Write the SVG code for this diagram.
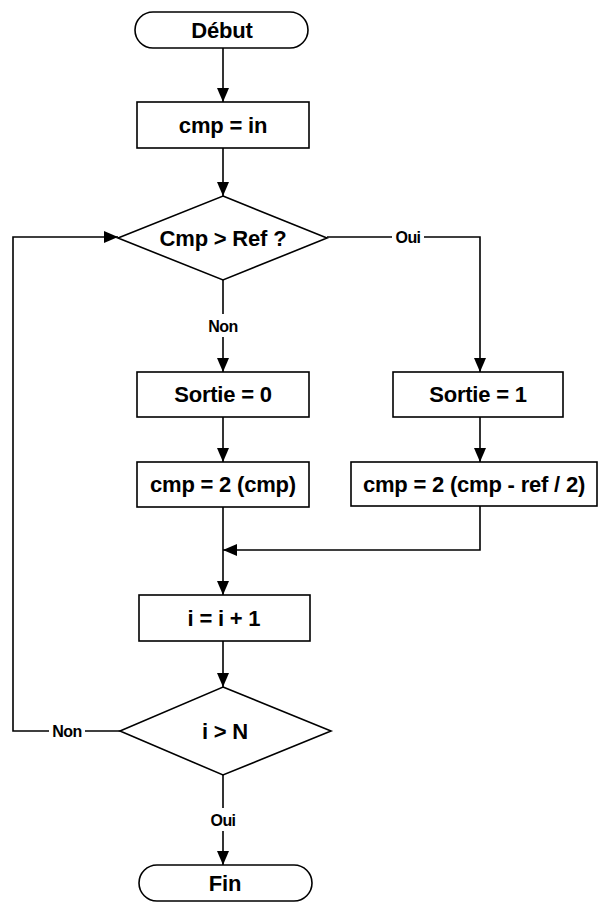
<svg xmlns="http://www.w3.org/2000/svg" width="598" height="906" viewBox="0 0 598 906">
<style>
.s{fill:#fff;stroke:#000;stroke-width:1.6}
.t{font-family:"Liberation Sans",Arial,sans-serif;font-weight:bold;font-size:22px;text-anchor:middle;fill:#000;letter-spacing:-0.2px}
.l{font-family:"Liberation Sans",Arial,sans-serif;font-weight:bold;font-size:16px;text-anchor:middle;fill:#000;letter-spacing:-0.6px}
.c{fill:none;stroke:#000;stroke-width:1.6}
</style>
<defs>
<marker id="ah" markerUnits="userSpaceOnUse" markerWidth="14" markerHeight="12" refX="14" refY="6" orient="auto">
<path d="M0,0 L14,6 L0,12 z" fill="#000"/>
</marker>
</defs>
<rect width="598" height="906" fill="#fff"/>
<g id="connectors">
<path class="c" d="M223,48 V102" marker-end="url(#ah)"/>
<path class="c" d="M223,148 V196" marker-end="url(#ah)"/>
<path class="c" d="M327,237 H392"/>
<path class="c" d="M424,237 H480 V372" marker-end="url(#ah)"/>
<path class="c" d="M223,280 V314"/>
<path class="c" d="M223,337 V372" marker-end="url(#ah)"/>
<path class="c" d="M223,417 V462" marker-end="url(#ah)"/>
<path class="c" d="M480,417 V462" marker-end="url(#ah)"/>
<path class="c" d="M223,507 V595" marker-end="url(#ah)"/>
<path class="c" d="M480,506 V550 H223" marker-end="url(#ah)"/>
<path class="c" d="M223,641 V687" marker-end="url(#ah)"/>
<path class="c" d="M223,775 V808"/>
<path class="c" d="M223,831 V865" marker-end="url(#ah)"/>
<path class="c" d="M120,731 H85"/>
<path class="c" d="M49,731 H13 V237 H118" marker-end="url(#ah)"/>
<text class="l" x="408" y="243">Oui</text>
<text class="l" x="223" y="332">Non</text>
<text class="l" x="223" y="826">Oui</text>
<text class="l" x="67" y="737">Non</text>
</g>
<g id="debut">
<rect class="s" x="135" y="12" width="173" height="36" rx="18"/>
<text class="t" x="222" y="38">Début</text>
</g>
<g id="init">
<rect class="s" x="137" y="102" width="172" height="46"/>
<text class="t" x="223" y="133">cmp = in</text>
</g>
<g id="test1">
<polygon class="s" points="223,196 327,238 223,280 118,238"/>
<text class="t" x="223" y="246">Cmp &gt; Ref ?</text>
</g>
<g id="sortie0">
<rect class="s" x="137" y="372" width="172" height="45"/>
<text class="t" x="223" y="402">Sortie = 0</text>
</g>
<g id="sortie1">
<rect class="s" x="393" y="372" width="170" height="45"/>
<text class="t" x="478" y="402">Sortie = 1</text>
</g>
<g id="cmp0">
<rect class="s" x="137" y="462" width="172" height="45"/>
<text class="t" x="223" y="492">cmp = 2 (cmp)</text>
</g>
<g id="cmp1">
<rect class="s" x="351" y="462" width="246" height="44"/>
<text class="t" x="474" y="492">cmp = 2 (cmp - ref / 2)</text>
</g>
<g id="incr">
<rect class="s" x="139" y="595" width="171" height="46"/>
<text class="t" x="224" y="626">i = i + 1</text>
</g>
<g id="test2">
<polygon class="s" points="223,687 331,731 223,775 120,731"/>
<text class="t" x="225" y="739">i &gt; N</text>
</g>
<g id="fin">
<rect class="s" x="139" y="865" width="173" height="36" rx="18"/>
<text class="t" x="225" y="891">Fin</text>
</g>
</svg>
